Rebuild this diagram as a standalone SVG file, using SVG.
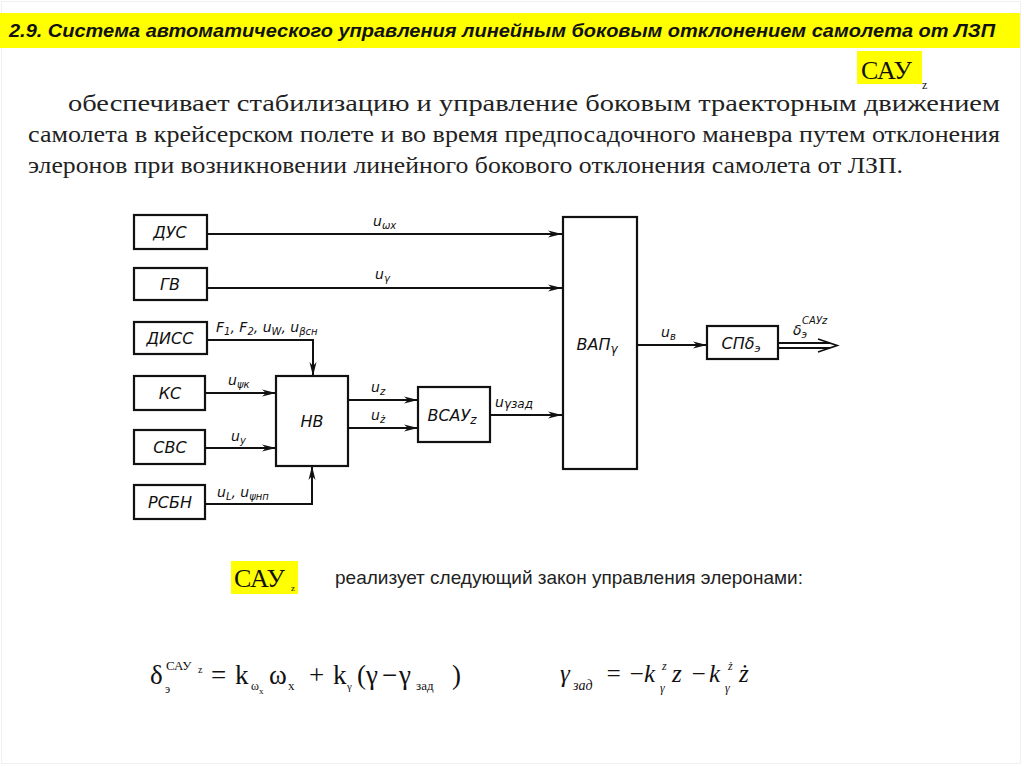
<svg xmlns="http://www.w3.org/2000/svg" width="1024" height="767" viewBox="0 0 1024 767">
<defs>
<style>
.blk{fill:#fff;stroke:#111;stroke-width:2.2}
.ln{fill:none;stroke:#111;stroke-width:2}
.bl{font-family:"DejaVu Sans",sans-serif;font-style:italic;font-size:16px;fill:#111;text-anchor:middle}
.sg{font-family:"DejaVu Sans",sans-serif;font-style:italic;font-size:14px;fill:#111}
.sub{font-size:10px}
.para{font-family:"Liberation Serif",serif;font-size:23px;fill:#222}
.fm{font-family:"Liberation Serif",serif;fill:#111}
</style>
<marker id="ar" viewBox="0 0 14 8" refX="14" refY="4" markerWidth="14" markerHeight="8" markerUnits="userSpaceOnUse" orient="auto">
<path d="M0,0.5 L14,4 L0,7.5 L4,4 Z" fill="#111"/>
</marker>
</defs>
<rect x="0" y="0" width="1024" height="767" fill="#fff"/>
<rect x="1.5" y="1.5" width="1019" height="762" fill="none" stroke="#f0f0f0" stroke-width="1"/>
<g id="title">
<rect x="0" y="13" width="1020" height="35" fill="#ffff00"/>
<text x="9" y="37" font-family="Liberation Sans, sans-serif" font-weight="bold" font-style="italic" font-size="18" textLength="986" lengthAdjust="spacingAndGlyphs" fill="#111">2.9. Система автоматического управления линейным боковым отклонением самолета от ЛЗП</text>
</g>
<g id="sau-top">
<rect x="857" y="51" width="65" height="33" fill="#ffff00"/>
<text x="861" y="79" class="fm" font-size="26">САУ</text>
<text x="922" y="89" class="fm" font-size="12">z</text>
</g>
<g id="paragraph">
<text x="68" y="111" class="para" textLength="932" lengthAdjust="spacingAndGlyphs">обеспечивает стабилизацию и управление боковым траекторным движением</text>
<text x="28" y="142" class="para" textLength="972" lengthAdjust="spacingAndGlyphs">самолета в крейсерском полете и во время предпосадочного маневра путем отклонения</text>
<text x="28" y="173" class="para" textLength="875" lengthAdjust="spacingAndGlyphs">элеронов при возникновении линейного бокового отклонения самолета от ЛЗП.</text>
</g>
<g id="connectors">
<line class="ln" x1="207" y1="234" x2="562" y2="234" marker-end="url(#ar)"/>
<line class="ln" x1="207" y1="288" x2="562" y2="288" marker-end="url(#ar)"/>
<polyline class="ln" points="207,340 313,340 313,376" marker-end="url(#ar)"/>
<line class="ln" x1="205" y1="393" x2="276" y2="393" marker-end="url(#ar)"/>
<line class="ln" x1="205" y1="448" x2="276" y2="448" marker-end="url(#ar)"/>
<polyline class="ln" points="205,504 312,504 312,466" marker-end="url(#ar)"/>
<line class="ln" x1="348" y1="400" x2="418" y2="400" marker-end="url(#ar)"/>
<line class="ln" x1="348" y1="428" x2="418" y2="428" marker-end="url(#ar)"/>
<line class="ln" x1="490" y1="415" x2="562" y2="415" marker-end="url(#ar)"/>
<line class="ln" x1="637" y1="345" x2="707" y2="345" marker-end="url(#ar)"/>
<line class="ln" x1="778" y1="343" x2="830" y2="343" stroke-width="1.6"/>
<line class="ln" x1="778" y1="348" x2="830" y2="348" stroke-width="1.6"/>
<path d="M818,339 L837,345.5 L818,352" fill="none" stroke="#111" stroke-width="1.8"/>
<text x="373" y="226" class="sg">u<tspan class="sub" dy="3">ωx</tspan></text>
<text x="375" y="279" class="sg">u<tspan class="sub" dy="3">γ</tspan></text>
<text x="216" y="332" class="sg">F<tspan class="sub" dy="3">1</tspan><tspan dy="-3">, F</tspan><tspan class="sub" dy="3">2</tspan><tspan dy="-3">, u</tspan><tspan class="sub" dy="3">W</tspan><tspan dy="-3">, u</tspan><tspan class="sub" dy="3">βсн</tspan></text>
<text x="228" y="385" class="sg">u<tspan class="sub" dy="3">ψк</tspan></text>
<text x="231" y="441" class="sg">u<tspan class="sub" dy="3">y</tspan></text>
<text x="217" y="497" class="sg">u<tspan class="sub" dy="3">L</tspan><tspan dy="-3">, u</tspan><tspan class="sub" dy="3">ψнп</tspan></text>
<text x="371" y="392" class="sg">u<tspan class="sub" dy="3">z</tspan></text>
<text x="371" y="420" class="sg">u<tspan class="sub" dy="3">ż</tspan></text>
<text x="495" y="407" class="sg" font-size="16">u<tspan font-size="12" dy="1">γзад</tspan></text>
<text x="661" y="337" class="sg">u<tspan class="sub" dy="3">в</tspan></text>
<text x="793" y="335" class="sg" font-size="15">δ<tspan class="sub" dy="3">э</tspan><tspan class="sub" dx="-5" dy="-14">САУz</tspan></text>
</g>
<g id="n-dus"><rect class="blk" x="134" y="215" width="73" height="34"/><text x="170" y="238" class="bl">ДУС</text></g>
<g id="n-gv"><rect class="blk" x="134" y="268" width="73" height="32"/><text x="170" y="290" class="bl">ГВ</text></g>
<g id="n-diss"><rect class="blk" x="134" y="322" width="73" height="32"/><text x="170" y="344" class="bl">ДИСС</text></g>
<g id="n-ks"><rect class="blk" x="134" y="376" width="71" height="34"/><text x="170" y="399" class="bl">КС</text></g>
<g id="n-svs"><rect class="blk" x="134" y="430" width="71" height="34"/><text x="170" y="453" class="bl">СВС</text></g>
<g id="n-rsbn"><rect class="blk" x="134" y="485" width="71" height="34"/><text x="170" y="508" class="bl">РСБН</text></g>
<g id="n-nv"><rect class="blk" x="276" y="376" width="72" height="90"/><text x="312" y="427" class="bl">НВ</text></g>
<g id="n-vsau"><rect class="blk" x="418" y="387" width="72" height="55"/><text x="452" y="421" class="bl">ВСАУ<tspan font-size="12" dy="3">z</tspan></text></g>
<g id="n-vap"><rect class="blk" x="563" y="217" width="74" height="252"/><text x="597" y="350" class="bl">ВАП<tspan font-size="12" dy="3">γ</tspan></text></g>
<g id="n-sp"><rect class="blk" x="707" y="326" width="71" height="33"/><text x="741" y="349" class="bl">СПδ<tspan font-size="11" dy="3">э</tspan></text></g>
<g id="sau-bottom">
<rect x="231" y="561" width="67" height="33" fill="#ffff00"/>
<text x="234" y="587" class="fm" font-size="26">САУ</text>
<text x="291" y="591" class="fm" font-size="9">z</text>
</g>
<text x="335" y="584" font-family="Liberation Sans, sans-serif" font-size="19" fill="#222">реализует следующий закон управления элеронами:</text>
<g id="formula1" class="fm">
<text x="150" y="684" font-size="27">δ</text>
<text x="166" y="670" font-size="13">САУ</text><text x="198" y="673" font-size="10">z</text>
<text x="165" y="693" font-size="12">э</text>
<text x="211" y="684" font-size="27">=</text>
<text x="235" y="684" font-size="27">k</text>
<text x="251" y="690" font-size="12">ω</text><text x="259" y="694" font-size="9">x</text>
<text x="269" y="684" font-size="27">ω</text><text x="288" y="690" font-size="13">x</text>
<text x="309" y="684" font-size="27">+</text>
<text x="333" y="684" font-size="27">k</text>
<text x="347" y="690" font-size="11">γ</text>
<text x="357" y="684" font-size="27">(</text>
<text x="366" y="684" font-size="27">γ</text>
<text x="382" y="684" font-size="27">−</text>
<text x="399" y="684" font-size="27">γ</text>
<text x="416" y="690" font-size="13">зад</text>
<text x="452" y="684" font-size="27">)</text>
</g>
<g id="formula2" class="fm" font-style="italic">
<text x="560" y="682" font-size="25">γ</text>
<text x="573" y="690" font-size="14">зад</text>
<text x="605" y="682" font-size="25">=</text>
<text x="628" y="682" font-size="25">−</text>
<text x="644" y="682" font-size="25">k</text>
<text x="662" y="670" font-size="12">z</text>
<text x="660" y="692" font-size="12">γ</text>
<text x="672" y="682" font-size="25">z</text>
<text x="690" y="682" font-size="25">−</text>
<text x="709" y="682" font-size="25">k</text>
<text x="728" y="670" font-size="12">ż</text>
<text x="725" y="692" font-size="12">γ</text>
<text x="739" y="682" font-size="25">ż</text>
</g>
</svg>
